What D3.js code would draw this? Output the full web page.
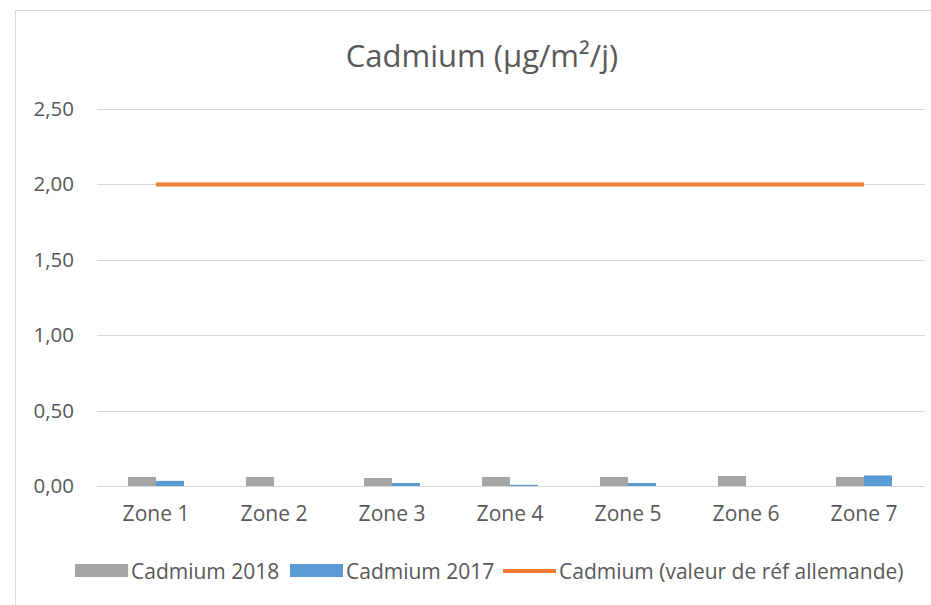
<!DOCTYPE html>
<html>
<head>
<meta charset="utf-8">
<script src="https://cdn.jsdelivr.net/npm/d3@7"></script>
<style>
  body { margin: 0; background: #fff; }
  text { font-family: "Open Sans", sans-serif; fill: #595959; }
</style>
</head>
<body>
<div id="chart"></div>
<script>
var zones = ['Zone 1', 'Zone 2', 'Zone 3', 'Zone 4', 'Zone 5', 'Zone 6', 'Zone 7'];
var cad2018 = [0.06, 0.06, 0.053, 0.06, 0.06, 0.066, 0.06];
var cad2017 = [0.034, 0, 0.02, 0.008, 0.02, 0, 0.07];
var refAllemande = [2, 2, 2, 2, 2, 2, 2];
var yTicks = [0, 0.5, 1, 1.5, 2, 2.5];
var seriesNames = ['Cadmium 2018', 'Cadmium 2017', 'Cadmium (valeur de réf allemande)'];
var colors = ['#a5a5a5', '#5b9bd5', '#ed7d31'];

var w = 931, h = 605;
var svg = d3.select('#chart').append('svg')
  .attr('width', w).attr('height', h);

// chart border
svg.append('rect')
  .attr('x', 15.5).attr('y', 10.5)
  .attr('width', 940).attr('height', 620)
  .attr('fill', 'none').attr('stroke', '#d9d9d9').attr('stroke-width', 1);

svg.append('text')
  .text('Cadmium (µg/m²/j)')
  .attr('x', 482).attr('y', 67)
  .attr('text-anchor', 'middle')
  .attr('font-size', '31px');

var x0 = d3.scaleBand().domain(zones).range([97, 923]);
var groupW = x0.bandwidth() * 0.475;
var x1 = d3.scaleBand().domain([0, 1]).range([0, groupW]);
var y = d3.scaleLinear().domain([0, 2.5]).range([486, 109]);

// gridlines
svg.selectAll('line.grid')
  .data(yTicks)
  .enter()
  .append('line')
  .attr('class', 'grid')
  .attr('x1', 97).attr('x2', 925)
  .attr('y1', function(d) { return Math.round(y(d)) + 0.5; })
  .attr('y2', function(d) { return Math.round(y(d)) + 0.5; })
  .attr('stroke', '#d9d9d9').attr('stroke-width', 1);

var fmt = function(d) { return d3.format('.2f')(d).replace('.', ','); };
var yAxis = svg.append('g')
  .attr('transform', 'translate(77,0)')
  .call(d3.axisLeft(y).tickValues(yTicks).tickFormat(fmt).tickSize(0));
yAxis.select('.domain').remove();
yAxis.selectAll('text')
  .attr('font-size', '20.5px')
  .attr('fill', '#595959')
  .style('font-family', '"Open Sans", sans-serif');

var xAxis = svg.append('g')
  .attr('transform', 'translate(0,503)')
  .call(d3.axisBottom(x0).tickSize(0));
xAxis.select('.domain').remove();
xAxis.selectAll('text')
  .attr('font-size', '21px')
  .attr('fill', '#595959')
  .style('font-family', '"Open Sans", sans-serif');

var bars = [cad2018, cad2017];
bars.forEach(function(series, s) {
  svg.selectAll('rect.s' + s)
    .data(series)
    .enter()
    .append('rect')
    .attr('class', 's' + s)
    .attr('x', function(d, i) {
      return x0(zones[i]) + (x0.bandwidth() - groupW) / 2 + x1(s);
    })
    .attr('y', function(d) { return y(d); })
    .attr('width', x1.bandwidth())
    .attr('height', function(d) { return y(0) - y(d); })
    .attr('fill', colors[s]);
});

var line = d3.line()
  .x(function(d, i) { return x0(zones[i]) + x0.bandwidth() / 2; })
  .y(function(d) { return y(d); });
svg.append('path')
  .datum(refAllemande)
  .attr('d', line)
  .attr('fill', 'none')
  .attr('stroke', colors[2])
  .attr('stroke-width', 4);

// legend
var legendX = [75, 290, 503];
var legend = svg.selectAll('g.legend')
  .data(seriesNames)
  .enter()
  .append('g')
  .attr('class', 'legend')
  .attr('transform', function(d, i) { return 'translate(' + legendX[i] + ',0)'; });
legend.each(function(d, i) {
  var g = d3.select(this);
  if (i < 2)
    g.append('rect').attr('x', 0).attr('y', 564).attr('width', 53).attr('height', 13).attr('fill', colors[i]);
  else
    g.append('line').attr('x1', 0).attr('x2', 53).attr('y1', 571).attr('y2', 571)
      .attr('stroke', colors[i]).attr('stroke-width', 4);
  g.append('text')
    .text(d)
    .attr('x', 56).attr('y', 579)
    .attr('font-size', '21px');
});
</script>
</body>
</html>
